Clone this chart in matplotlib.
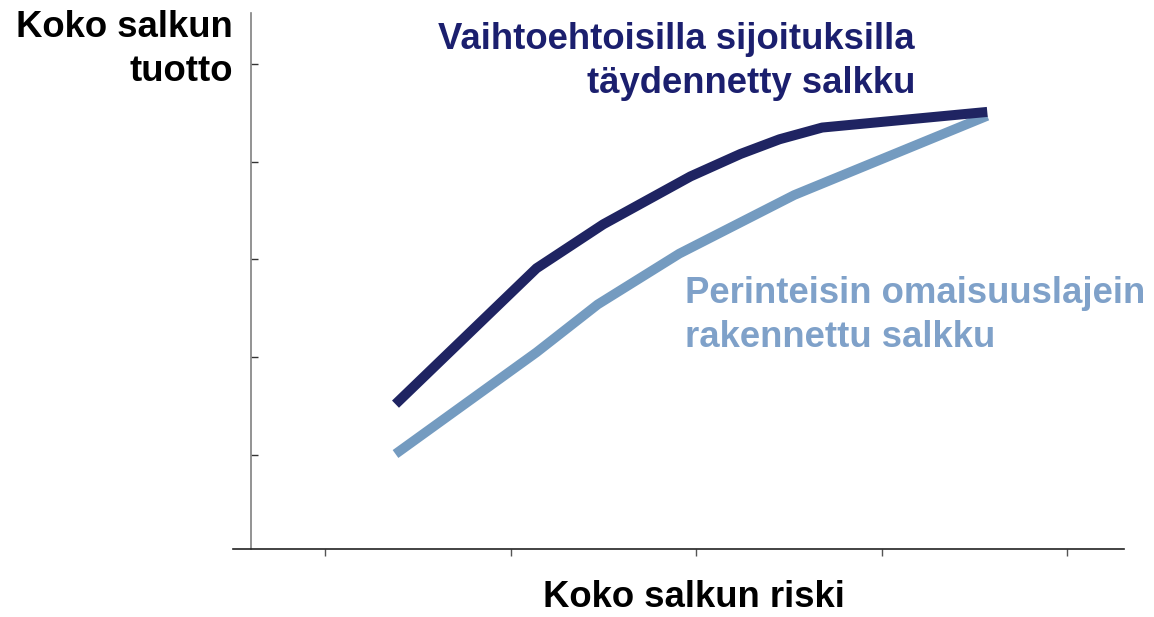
import matplotlib
matplotlib.use("Agg")
import matplotlib.pyplot as plt

# Data (arbitrary units: risk vs return)
alt_risk = [1.38, 2.14, 2.50, 2.97, 3.24, 3.45, 3.68, 4.57]
alt_return = [1.52, 2.91, 3.36, 3.85, 4.08, 4.23, 4.35, 4.51]
trad_risk = [1.38, 2.14, 2.47, 2.91, 3.53, 4.57]
trad_return = [1.01, 2.05, 2.54, 3.06, 3.66, 4.47]
x_ticks = [1, 2, 3, 4, 5]
y_ticks = [1, 2, 3, 4, 5]

dark = "#1F2462"
light = "#749BC0"

plt.rcParams['font.family'] = ['Liberation Sans', 'DejaVu Sans']

fig = plt.figure(figsize=(11.54, 6.17), dpi=100)
W, H = 1154, 617
ax = fig.add_axes([233 / W, 1 - 549 / H, (1124 - 233) / W, (549 - 13) / H])

ax.plot(trad_risk, trad_return, color=light, lw=7.0, solid_capstyle='butt', solid_joinstyle='round')
ax.plot(alt_risk, alt_return, color=dark, lw=7.2, solid_capstyle='butt', solid_joinstyle='round')

ax.set_xlim(0.504, 5.307)
ax.set_ylim(0.038, 5.522)
ax.set_xticks(x_ticks)
ax.set_yticks(y_ticks)
ax.set_xticklabels([])
ax.set_yticklabels([])
ax.spines['top'].set_visible(False)
ax.spines['right'].set_visible(False)
ax.spines['left'].set_position(('data', 0.601))
ax.spines['left'].set_color('#808080')
ax.spines['left'].set_linewidth(1.2)
ax.spines['bottom'].set_color('#222222')
ax.spines['bottom'].set_linewidth(1.2)
ax.tick_params(axis='y', direction='in', length=5, color='#333333', width=1)
ax.tick_params(axis='x', direction='out', length=5, color='#555555', width=1)

fs = 26.3


def put(x, y, s, ha, color):
    fig.text(x / W, 1 - y / H, s, ha=ha, va='baseline', fontsize=fs,
             fontweight='bold', color=color)


put(233, 37, "Koko salkun", 'right', 'black')
put(233, 81, "tuotto", 'right', 'black')
put(694, 607, "Koko salkun riski", 'center', 'black')
put(915, 49, "Vaihtoehtoisilla sijoituksilla", 'right', '#1B1F6E')
put(915, 93, "täydennetty salkku", 'right', '#1B1F6E')
put(685, 303, "Perinteisin omaisuuslajein", 'left', '#7FA1C9')
put(685, 347, "rakennettu salkku", 'left', '#7FA1C9')

fig.savefig("out.png", dpi=100)
